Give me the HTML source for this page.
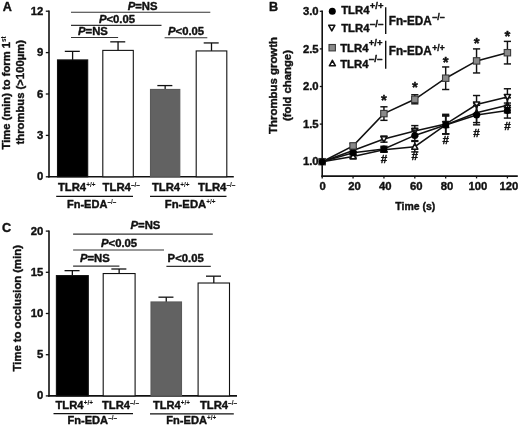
<!DOCTYPE html>
<html><head><meta charset="utf-8"><title>Figure</title>
<style>html,body{margin:0;padding:0;background:#fff}svg{display:block;filter:blur(0.35px)}</style></head>
<body>
<svg width="520" height="426" viewBox="0 0 520 426" font-family='"Liberation Sans", Arial, sans-serif' font-weight="bold" fill="#111">
<style>text{stroke:#111;stroke-width:0.4px;stroke-linejoin:round}</style>
<rect width="520" height="426" fill="#fff"/>
<text x="2.8" y="11.0" font-size="12.6" text-anchor="start" >A</text>
<line x1="49.0" y1="10.6" x2="49.0" y2="177.5" stroke="#111" stroke-width="1.6"/>
<line x1="48.2" y1="176.8" x2="233.8" y2="176.8" stroke="#111" stroke-width="1.6"/>
<line x1="45.8" y1="176.8" x2="49.0" y2="176.8" stroke="#111" stroke-width="1.3"/>
<text x="43.4" y="180.3" font-size="11.3" text-anchor="end" >0</text>
<line x1="45.8" y1="135.4" x2="49.0" y2="135.4" stroke="#111" stroke-width="1.3"/>
<text x="43.4" y="138.9" font-size="11.3" text-anchor="end" >3</text>
<line x1="45.8" y1="94.0" x2="49.0" y2="94.0" stroke="#111" stroke-width="1.3"/>
<text x="43.4" y="97.5" font-size="11.3" text-anchor="end" >6</text>
<line x1="45.8" y1="52.6" x2="49.0" y2="52.6" stroke="#111" stroke-width="1.3"/>
<text x="43.4" y="56.1" font-size="11.3" text-anchor="end" >9</text>
<line x1="45.8" y1="11.2" x2="49.0" y2="11.2" stroke="#111" stroke-width="1.3"/>
<text x="43.4" y="14.7" font-size="11.3" text-anchor="end" >12</text>
<line x1="72.6" y1="51.36" x2="72.6" y2="59.91" stroke="#111" stroke-width="1.3"/>
<line x1="64.8" y1="51.36" x2="79.8" y2="51.36" stroke="#111" stroke-width="1.3"/>
<rect x="57.5" y="59.91" width="30.2" height="116.89" fill="#000" stroke="#111" stroke-width="1.1"/>
<line x1="118.05" y1="41.84" x2="118.05" y2="50.39" stroke="#111" stroke-width="1.3"/>
<line x1="110.25" y1="41.84" x2="125.25" y2="41.84" stroke="#111" stroke-width="1.3"/>
<rect x="102.8" y="50.39" width="30.5" height="126.41" fill="#fff" stroke="#111" stroke-width="1.1"/>
<line x1="165.15" y1="85.58" x2="165.15" y2="89.45" stroke="#111" stroke-width="1.3"/>
<line x1="157.35" y1="85.58" x2="172.35" y2="85.58" stroke="#111" stroke-width="1.3"/>
<rect x="150.5" y="89.45" width="29.3" height="87.35" fill="#626262" stroke="#5a5a5a" stroke-width="1.1"/>
<line x1="211.5" y1="42.94" x2="211.5" y2="50.94" stroke="#111" stroke-width="1.3"/>
<line x1="203.7" y1="42.94" x2="218.7" y2="42.94" stroke="#111" stroke-width="1.3"/>
<rect x="196.2" y="50.94" width="30.6" height="125.86" fill="#fff" stroke="#111" stroke-width="1.1"/>
<line x1="71" y1="12.3" x2="210.3" y2="12.3" stroke="#333" stroke-width="1.1"/>
<line x1="71" y1="25.4" x2="161.5" y2="25.4" stroke="#333" stroke-width="1.1"/>
<line x1="71" y1="37.5" x2="118.1" y2="37.5" stroke="#333" stroke-width="1.1"/>
<line x1="164.6" y1="37.8" x2="207.3" y2="37.8" stroke="#333" stroke-width="1.1"/>
<text x="127.7" y="10.2" font-size="11.3" text-anchor="start" ><tspan font-style="italic">P</tspan>=NS</text>
<text x="98.9" y="22.5" font-size="11.3" text-anchor="start" ><tspan font-style="italic">P</tspan>&lt;0.05</text>
<text x="78" y="35.4" font-size="11.3" text-anchor="start" ><tspan font-style="italic">P</tspan>=NS</text>
<text x="168" y="35.4" font-size="11.3" text-anchor="start" ><tspan font-style="italic">P</tspan>&lt;0.05</text>
<text x="58" y="190.8" font-size="11.3" text-anchor="start" textLength="37.5" lengthAdjust="spacingAndGlyphs">TLR4<tspan font-size="6.5" dy="-4" stroke-width="0.05">+/+</tspan></text>
<text x="102.5" y="190.8" font-size="11.3" text-anchor="start" textLength="37.5" lengthAdjust="spacingAndGlyphs">TLR4<tspan font-size="6.5" dy="-4" stroke-width="0.05">–/–</tspan></text>
<text x="152" y="190.8" font-size="11.3" text-anchor="start" textLength="37.5" lengthAdjust="spacingAndGlyphs">TLR4<tspan font-size="6.5" dy="-4" stroke-width="0.05">+/+</tspan></text>
<text x="198" y="190.8" font-size="11.3" text-anchor="start" textLength="37.5" lengthAdjust="spacingAndGlyphs">TLR4<tspan font-size="6.5" dy="-4" stroke-width="0.05">–/–</tspan></text>
<line x1="56.2" y1="196.3" x2="133" y2="196.3" stroke="#111" stroke-width="1.2"/>
<line x1="150" y1="196.4" x2="226.5" y2="196.4" stroke="#111" stroke-width="1.2"/>
<text x="67" y="208.4" font-size="11.3" text-anchor="start" textLength="49.2" lengthAdjust="spacingAndGlyphs">Fn-EDA<tspan font-size="6.5" dy="-4" stroke-width="0.05">–/–</tspan></text>
<text x="164.8" y="208.4" font-size="11.3" text-anchor="start" textLength="50.8" lengthAdjust="spacingAndGlyphs">Fn-EDA<tspan font-size="6.5" dy="-4" stroke-width="0.05">+/+</tspan></text>
<text transform="translate(10.4,149.5) rotate(-90)" font-size="11.3" textLength="113.2" lengthAdjust="spacingAndGlyphs">Time (min) to form 1<tspan font-size="6.5" dy="-4" stroke-width="0.05">st</tspan></text>
<text transform="translate(24.2,144.5) rotate(-90)" font-size="11.3" textLength="104.4" lengthAdjust="spacingAndGlyphs">thrombus (&gt;100µm)</text>
<text x="2" y="231.8" font-size="12.6" text-anchor="start" >C</text>
<line x1="49.0" y1="230.5" x2="49.0" y2="396.6" stroke="#111" stroke-width="1.6"/>
<line x1="48.2" y1="395.9" x2="237" y2="395.9" stroke="#111" stroke-width="1.6"/>
<line x1="45.8" y1="395.9" x2="49.0" y2="395.9" stroke="#111" stroke-width="1.3"/>
<text x="43.4" y="399.4" font-size="11.3" text-anchor="end" >0</text>
<line x1="45.8" y1="354.7" x2="49.0" y2="354.7" stroke="#111" stroke-width="1.3"/>
<text x="43.4" y="358.2" font-size="11.3" text-anchor="end" >5</text>
<line x1="45.8" y1="313.5" x2="49.0" y2="313.5" stroke="#111" stroke-width="1.3"/>
<text x="43.4" y="317.0" font-size="11.3" text-anchor="end" >10</text>
<line x1="45.8" y1="272.3" x2="49.0" y2="272.3" stroke="#111" stroke-width="1.3"/>
<text x="43.4" y="275.8" font-size="11.3" text-anchor="end" >15</text>
<line x1="45.8" y1="231.1" x2="49.0" y2="231.1" stroke="#111" stroke-width="1.3"/>
<text x="43.4" y="234.6" font-size="11.3" text-anchor="end" >20</text>
<line x1="72.35" y1="270.65" x2="72.35" y2="275.6" stroke="#111" stroke-width="1.3"/>
<line x1="64.55" y1="270.65" x2="79.55" y2="270.65" stroke="#111" stroke-width="1.3"/>
<rect x="56.4" y="275.6" width="31.9" height="120.3" fill="#000" stroke="#111" stroke-width="1.1"/>
<line x1="119.15" y1="269" x2="119.15" y2="273.54" stroke="#111" stroke-width="1.3"/>
<line x1="111.35" y1="269" x2="126.35" y2="269" stroke="#111" stroke-width="1.3"/>
<rect x="103.2" y="273.54" width="31.9" height="122.36" fill="#fff" stroke="#111" stroke-width="1.1"/>
<line x1="166.25" y1="297.18" x2="166.25" y2="301.96" stroke="#111" stroke-width="1.3"/>
<line x1="158.45" y1="297.18" x2="173.45" y2="297.18" stroke="#111" stroke-width="1.3"/>
<rect x="151.0" y="301.96" width="30.5" height="93.94" fill="#626262" stroke="#5a5a5a" stroke-width="1.1"/>
<line x1="213.8" y1="276.17" x2="213.8" y2="283.01" stroke="#111" stroke-width="1.3"/>
<line x1="206.0" y1="276.17" x2="221.0" y2="276.17" stroke="#111" stroke-width="1.3"/>
<rect x="198.1" y="283.01" width="31.4" height="112.89" fill="#fff" stroke="#111" stroke-width="1.1"/>
<line x1="73.1" y1="234.1" x2="212.8" y2="234.1" stroke="#333" stroke-width="1.1"/>
<line x1="73.1" y1="250" x2="164" y2="250" stroke="#333" stroke-width="1.1"/>
<line x1="73.1" y1="266.1" x2="119.4" y2="266.1" stroke="#333" stroke-width="1.1"/>
<line x1="166.4" y1="266.4" x2="210.8" y2="266.4" stroke="#333" stroke-width="1.1"/>
<text x="130.5" y="228.8" font-size="11.3" text-anchor="start" ><tspan font-style="italic">P</tspan>=NS</text>
<text x="101" y="246.5" font-size="11.3" text-anchor="start" ><tspan font-style="italic">P</tspan>&lt;0.05</text>
<text x="79.9" y="262" font-size="11.3" text-anchor="start" ><tspan font-style="italic">P</tspan>=NS</text>
<text x="167.6" y="261.9" font-size="11.3" text-anchor="start" ><tspan>P</tspan>&lt;0.05</text>
<text x="55.5" y="409.3" font-size="11.3" text-anchor="start" textLength="37.5" lengthAdjust="spacingAndGlyphs">TLR4<tspan font-size="6.5" dy="-4" stroke-width="0.05">+/+</tspan></text>
<text x="102" y="409.3" font-size="11.3" text-anchor="start" textLength="37" lengthAdjust="spacingAndGlyphs">TLR4<tspan font-size="6.5" dy="-4" stroke-width="0.05">–/–</tspan></text>
<text x="153" y="409.3" font-size="11.3" text-anchor="start" textLength="37" lengthAdjust="spacingAndGlyphs">TLR4<tspan font-size="6.5" dy="-4" stroke-width="0.05">+/+</tspan></text>
<text x="199.9" y="409.3" font-size="11.3" text-anchor="start" textLength="37.2" lengthAdjust="spacingAndGlyphs">TLR4<tspan font-size="6.5" dy="-4" stroke-width="0.05">–/–</tspan></text>
<line x1="53.5" y1="413.7" x2="133" y2="413.7" stroke="#111" stroke-width="1.2"/>
<line x1="150" y1="413.9" x2="233.8" y2="413.9" stroke="#111" stroke-width="1.2"/>
<text x="67.5" y="424.2" font-size="11.3" text-anchor="start" textLength="49.5" lengthAdjust="spacingAndGlyphs">Fn-EDA<tspan font-size="6.5" dy="-4" stroke-width="0.05">–/–</tspan></text>
<text x="166.3" y="424.2" font-size="11.3" text-anchor="start" textLength="50" lengthAdjust="spacingAndGlyphs">Fn-EDA<tspan font-size="6.5" dy="-4" stroke-width="0.05">+/+</tspan></text>
<text transform="translate(21.2,371.4) rotate(-90)" font-size="11.3" textLength="126.3" lengthAdjust="spacingAndGlyphs">Time to occlusion (min)</text>
<text x="268.9" y="11.1" font-size="12.6" text-anchor="start" >B</text>
<line x1="322.2" y1="10.6" x2="322.2" y2="176.8" stroke="#111" stroke-width="1.6"/>
<line x1="321.4" y1="176.1" x2="517.8" y2="176.1" stroke="#111" stroke-width="1.6"/>
<line x1="319.8" y1="161.7" x2="322.2" y2="161.7" stroke="#111" stroke-width="1.3"/>
<text x="318.6" y="165.4" font-size="11.3" text-anchor="end" >1.0</text>
<line x1="319.8" y1="124.1" x2="322.2" y2="124.1" stroke="#111" stroke-width="1.3"/>
<text x="318.6" y="127.8" font-size="11.3" text-anchor="end" >1.5</text>
<line x1="319.8" y1="86.5" x2="322.2" y2="86.5" stroke="#111" stroke-width="1.3"/>
<text x="318.6" y="90.2" font-size="11.3" text-anchor="end" >2.0</text>
<line x1="319.8" y1="48.9" x2="322.2" y2="48.9" stroke="#111" stroke-width="1.3"/>
<text x="318.6" y="52.6" font-size="11.3" text-anchor="end" >2.5</text>
<line x1="319.8" y1="11.3" x2="322.2" y2="11.3" stroke="#111" stroke-width="1.3"/>
<text x="318.6" y="15" font-size="11.3" text-anchor="end" >3.0</text>
<line x1="322.2" y1="176.1" x2="322.2" y2="178.4" stroke="#111" stroke-width="1.3"/>
<text x="322.7" y="189.8" font-size="11.3" text-anchor="middle" >0</text>
<line x1="353.07" y1="176.1" x2="353.07" y2="178.4" stroke="#111" stroke-width="1.3"/>
<text x="354.47" y="189.8" font-size="11.3" text-anchor="middle" >20</text>
<line x1="383.94" y1="176.1" x2="383.94" y2="178.4" stroke="#111" stroke-width="1.3"/>
<text x="385.34" y="189.8" font-size="11.3" text-anchor="middle" >40</text>
<line x1="414.81" y1="176.1" x2="414.81" y2="178.4" stroke="#111" stroke-width="1.3"/>
<text x="416.21" y="189.8" font-size="11.3" text-anchor="middle" >60</text>
<line x1="445.68" y1="176.1" x2="445.68" y2="178.4" stroke="#111" stroke-width="1.3"/>
<text x="447.08" y="189.8" font-size="11.3" text-anchor="middle" >80</text>
<line x1="476.55" y1="176.1" x2="476.55" y2="178.4" stroke="#111" stroke-width="1.3"/>
<text x="477.95" y="189.8" font-size="11.3" text-anchor="middle" >100</text>
<line x1="507.42" y1="176.1" x2="507.42" y2="178.4" stroke="#111" stroke-width="1.3"/>
<text x="508.82" y="189.8" font-size="11.3" text-anchor="middle" >120</text>
<text x="415.3" y="209.5" font-size="11.3" text-anchor="middle" textLength="40" lengthAdjust="spacingAndGlyphs">Time (s)</text>
<text transform="translate(277,133.9) rotate(-90)" font-size="11.5" textLength="96.9" lengthAdjust="spacingAndGlyphs">Thrombus growth</text>
<text transform="translate(290.6,121) rotate(-90)" font-size="11.3" textLength="70.9" lengthAdjust="spacingAndGlyphs">(fold change)</text>
<polyline points="322.2,161.7 353.1,156.4 383.9,149.7 414.8,146.7 445.7,124.9 476.6,112.8 507.4,105.3" fill="none" stroke="#111" stroke-width="1.55"/>
<line x1="353.07" y1="154.93" x2="353.07" y2="157.94" stroke="#111" stroke-width="1.45"/>
<line x1="349.47" y1="154.93" x2="356.67" y2="154.93" stroke="#111" stroke-width="1.45"/>
<line x1="349.47" y1="157.94" x2="356.67" y2="157.94" stroke="#111" stroke-width="1.45"/>
<line x1="383.94" y1="147.41" x2="383.94" y2="151.92" stroke="#111" stroke-width="1.45"/>
<line x1="380.34" y1="147.41" x2="387.54" y2="147.41" stroke="#111" stroke-width="1.45"/>
<line x1="380.34" y1="151.92" x2="387.54" y2="151.92" stroke="#111" stroke-width="1.45"/>
<line x1="414.81" y1="141.4" x2="414.81" y2="151.92" stroke="#111" stroke-width="1.45"/>
<line x1="411.21" y1="141.4" x2="418.41" y2="141.4" stroke="#111" stroke-width="1.45"/>
<line x1="411.21" y1="151.92" x2="418.41" y2="151.92" stroke="#111" stroke-width="1.45"/>
<line x1="445.68" y1="115.83" x2="445.68" y2="133.88" stroke="#111" stroke-width="1.45"/>
<line x1="442.08" y1="115.83" x2="449.28" y2="115.83" stroke="#111" stroke-width="1.45"/>
<line x1="442.08" y1="133.88" x2="449.28" y2="133.88" stroke="#111" stroke-width="1.45"/>
<line x1="476.55" y1="103.04" x2="476.55" y2="122.6" stroke="#111" stroke-width="1.45"/>
<line x1="472.95" y1="103.04" x2="480.15" y2="103.04" stroke="#111" stroke-width="1.45"/>
<line x1="472.95" y1="122.6" x2="480.15" y2="122.6" stroke="#111" stroke-width="1.45"/>
<line x1="507.42" y1="97.78" x2="507.42" y2="112.82" stroke="#111" stroke-width="1.45"/>
<line x1="503.82" y1="97.78" x2="511.02" y2="97.78" stroke="#111" stroke-width="1.45"/>
<line x1="503.82" y1="112.82" x2="511.02" y2="112.82" stroke="#111" stroke-width="1.45"/>
<path d="M319.2 164.2 L325.2 164.2 L322.2 158.7 Z" fill="#fff" stroke="#111" stroke-width="1.6" stroke-linejoin="round"/>
<path d="M350.1 158.9 L356.1 158.9 L353.1 153.4 Z" fill="#fff" stroke="#111" stroke-width="1.6" stroke-linejoin="round"/>
<path d="M380.9 152.2 L386.9 152.2 L383.9 146.7 Z" fill="#fff" stroke="#111" stroke-width="1.6" stroke-linejoin="round"/>
<path d="M411.8 149.2 L417.8 149.2 L414.8 143.7 Z" fill="#fff" stroke="#111" stroke-width="1.6" stroke-linejoin="round"/>
<path d="M442.7 127.4 L448.7 127.4 L445.7 121.9 Z" fill="#fff" stroke="#111" stroke-width="1.6" stroke-linejoin="round"/>
<path d="M473.6 115.3 L479.6 115.3 L476.6 109.8 Z" fill="#fff" stroke="#111" stroke-width="1.6" stroke-linejoin="round"/>
<path d="M504.4 107.8 L510.4 107.8 L507.4 102.3 Z" fill="#fff" stroke="#111" stroke-width="1.6" stroke-linejoin="round"/>
<polyline points="322.2,161.7 353.1,150.4 383.9,139.1 414.8,130.9 445.7,124.1 476.6,104.5 507.4,97.0" fill="none" stroke="#111" stroke-width="1.55"/>
<line x1="353.07" y1="148.92" x2="353.07" y2="151.92" stroke="#111" stroke-width="1.45"/>
<line x1="349.47" y1="148.92" x2="356.67" y2="148.92" stroke="#111" stroke-width="1.45"/>
<line x1="349.47" y1="151.92" x2="356.67" y2="151.92" stroke="#111" stroke-width="1.45"/>
<line x1="383.94" y1="136.13" x2="383.94" y2="142.15" stroke="#111" stroke-width="1.45"/>
<line x1="380.34" y1="136.13" x2="387.54" y2="136.13" stroke="#111" stroke-width="1.45"/>
<line x1="380.34" y1="142.15" x2="387.54" y2="142.15" stroke="#111" stroke-width="1.45"/>
<line x1="414.81" y1="125.6" x2="414.81" y2="136.13" stroke="#111" stroke-width="1.45"/>
<line x1="411.21" y1="125.6" x2="418.41" y2="125.6" stroke="#111" stroke-width="1.45"/>
<line x1="411.21" y1="136.13" x2="418.41" y2="136.13" stroke="#111" stroke-width="1.45"/>
<line x1="445.68" y1="114.32" x2="445.68" y2="133.88" stroke="#111" stroke-width="1.45"/>
<line x1="442.08" y1="114.32" x2="449.28" y2="114.32" stroke="#111" stroke-width="1.45"/>
<line x1="442.08" y1="133.88" x2="449.28" y2="133.88" stroke="#111" stroke-width="1.45"/>
<line x1="476.55" y1="95.52" x2="476.55" y2="113.57" stroke="#111" stroke-width="1.45"/>
<line x1="472.95" y1="95.52" x2="480.15" y2="95.52" stroke="#111" stroke-width="1.45"/>
<line x1="472.95" y1="113.57" x2="480.15" y2="113.57" stroke="#111" stroke-width="1.45"/>
<line x1="507.42" y1="88.76" x2="507.42" y2="105.3" stroke="#111" stroke-width="1.45"/>
<line x1="503.82" y1="88.76" x2="511.02" y2="88.76" stroke="#111" stroke-width="1.45"/>
<line x1="503.82" y1="105.3" x2="511.02" y2="105.3" stroke="#111" stroke-width="1.45"/>
<path d="M319.2 159.2 L325.2 159.2 L322.2 164.7 Z" fill="#fff" stroke="#111" stroke-width="1.6" stroke-linejoin="round"/>
<path d="M350.1 147.9 L356.1 147.9 L353.1 153.4 Z" fill="#fff" stroke="#111" stroke-width="1.6" stroke-linejoin="round"/>
<path d="M380.9 136.6 L386.9 136.6 L383.9 142.1 Z" fill="#fff" stroke="#111" stroke-width="1.6" stroke-linejoin="round"/>
<path d="M411.8 128.4 L417.8 128.4 L414.8 133.9 Z" fill="#fff" stroke="#111" stroke-width="1.6" stroke-linejoin="round"/>
<path d="M442.7 121.6 L448.7 121.6 L445.7 127.1 Z" fill="#fff" stroke="#111" stroke-width="1.6" stroke-linejoin="round"/>
<path d="M473.6 102.0 L479.6 102.0 L476.6 107.5 Z" fill="#fff" stroke="#111" stroke-width="1.6" stroke-linejoin="round"/>
<path d="M504.4 94.5 L510.4 94.5 L507.4 100.0 Z" fill="#fff" stroke="#111" stroke-width="1.6" stroke-linejoin="round"/>
<polyline points="322.2,161.7 353.1,145.9 383.9,113.6 414.8,99.3 445.7,78.2 476.6,60.9 507.4,52.7" fill="none" stroke="#111" stroke-width="1.55"/>
<line x1="353.07" y1="143.65" x2="353.07" y2="148.16" stroke="#111" stroke-width="1.45"/>
<line x1="349.47" y1="143.65" x2="356.67" y2="143.65" stroke="#111" stroke-width="1.45"/>
<line x1="349.47" y1="148.16" x2="356.67" y2="148.16" stroke="#111" stroke-width="1.45"/>
<line x1="383.94" y1="106.8" x2="383.94" y2="120.34" stroke="#111" stroke-width="1.45"/>
<line x1="380.34" y1="106.8" x2="387.54" y2="106.8" stroke="#111" stroke-width="1.45"/>
<line x1="380.34" y1="120.34" x2="387.54" y2="120.34" stroke="#111" stroke-width="1.45"/>
<line x1="414.81" y1="94.77" x2="414.81" y2="103.8" stroke="#111" stroke-width="1.45"/>
<line x1="411.21" y1="94.77" x2="418.41" y2="94.77" stroke="#111" stroke-width="1.45"/>
<line x1="411.21" y1="103.8" x2="418.41" y2="103.8" stroke="#111" stroke-width="1.45"/>
<line x1="445.68" y1="66.95" x2="445.68" y2="89.51" stroke="#111" stroke-width="1.45"/>
<line x1="442.08" y1="66.95" x2="449.28" y2="66.95" stroke="#111" stroke-width="1.45"/>
<line x1="442.08" y1="89.51" x2="449.28" y2="89.51" stroke="#111" stroke-width="1.45"/>
<line x1="476.55" y1="48.9" x2="476.55" y2="72.96" stroke="#111" stroke-width="1.45"/>
<line x1="472.95" y1="48.9" x2="480.15" y2="48.9" stroke="#111" stroke-width="1.45"/>
<line x1="472.95" y1="72.96" x2="480.15" y2="72.96" stroke="#111" stroke-width="1.45"/>
<line x1="507.42" y1="41.38" x2="507.42" y2="63.94" stroke="#111" stroke-width="1.45"/>
<line x1="503.82" y1="41.38" x2="511.02" y2="41.38" stroke="#111" stroke-width="1.45"/>
<line x1="503.82" y1="63.94" x2="511.02" y2="63.94" stroke="#111" stroke-width="1.45"/>
<rect x="319.0" y="158.5" width="6.4" height="6.4" fill="#8a8a8a" stroke="#3a3a3a" stroke-width="1.1"/>
<rect x="349.9" y="142.7" width="6.4" height="6.4" fill="#8a8a8a" stroke="#3a3a3a" stroke-width="1.1"/>
<rect x="380.7" y="110.4" width="6.4" height="6.4" fill="#8a8a8a" stroke="#3a3a3a" stroke-width="1.1"/>
<rect x="411.6" y="96.1" width="6.4" height="6.4" fill="#8a8a8a" stroke="#3a3a3a" stroke-width="1.1"/>
<rect x="442.5" y="75.0" width="6.4" height="6.4" fill="#8a8a8a" stroke="#3a3a3a" stroke-width="1.1"/>
<rect x="473.4" y="57.7" width="6.4" height="6.4" fill="#8a8a8a" stroke="#3a3a3a" stroke-width="1.1"/>
<rect x="504.2" y="49.5" width="6.4" height="6.4" fill="#8a8a8a" stroke="#3a3a3a" stroke-width="1.1"/>
<polyline points="322.2,161.7 353.1,152.7 383.9,148.9 414.8,135.4 445.7,124.9 476.6,115.1 507.4,110.6" fill="none" stroke="#111" stroke-width="1.55"/>
<line x1="353.07" y1="151.17" x2="353.07" y2="154.18" stroke="#111" stroke-width="1.45"/>
<line x1="349.47" y1="151.17" x2="356.67" y2="151.17" stroke="#111" stroke-width="1.45"/>
<line x1="349.47" y1="154.18" x2="356.67" y2="154.18" stroke="#111" stroke-width="1.45"/>
<line x1="383.94" y1="146.28" x2="383.94" y2="151.55" stroke="#111" stroke-width="1.45"/>
<line x1="380.34" y1="146.28" x2="387.54" y2="146.28" stroke="#111" stroke-width="1.45"/>
<line x1="380.34" y1="151.55" x2="387.54" y2="151.55" stroke="#111" stroke-width="1.45"/>
<line x1="414.81" y1="130.12" x2="414.81" y2="140.64" stroke="#111" stroke-width="1.45"/>
<line x1="411.21" y1="130.12" x2="418.41" y2="130.12" stroke="#111" stroke-width="1.45"/>
<line x1="411.21" y1="140.64" x2="418.41" y2="140.64" stroke="#111" stroke-width="1.45"/>
<line x1="445.68" y1="115.83" x2="445.68" y2="133.88" stroke="#111" stroke-width="1.45"/>
<line x1="442.08" y1="115.83" x2="449.28" y2="115.83" stroke="#111" stroke-width="1.45"/>
<line x1="442.08" y1="133.88" x2="449.28" y2="133.88" stroke="#111" stroke-width="1.45"/>
<line x1="476.55" y1="105.3" x2="476.55" y2="124.85" stroke="#111" stroke-width="1.45"/>
<line x1="472.95" y1="105.3" x2="480.15" y2="105.3" stroke="#111" stroke-width="1.45"/>
<line x1="472.95" y1="124.85" x2="480.15" y2="124.85" stroke="#111" stroke-width="1.45"/>
<line x1="507.42" y1="103.04" x2="507.42" y2="118.08" stroke="#111" stroke-width="1.45"/>
<line x1="503.82" y1="103.04" x2="511.02" y2="103.04" stroke="#111" stroke-width="1.45"/>
<line x1="503.82" y1="118.08" x2="511.02" y2="118.08" stroke="#111" stroke-width="1.45"/>
<circle cx="322.2" cy="161.7" r="3.5" fill="#000"/>
<circle cx="353.1" cy="152.7" r="3.5" fill="#000"/>
<circle cx="383.9" cy="148.9" r="3.5" fill="#000"/>
<circle cx="414.8" cy="135.4" r="3.5" fill="#000"/>
<circle cx="445.7" cy="124.9" r="3.5" fill="#000"/>
<circle cx="476.6" cy="115.1" r="3.5" fill="#000"/>
<circle cx="507.4" cy="110.6" r="3.5" fill="#000"/>
<text x="384.04" y="105.1" font-size="15" text-anchor="middle" >*</text>
<text x="414.91" y="92.1" font-size="15" text-anchor="middle" >*</text>
<text x="445.78" y="67.1" font-size="15" text-anchor="middle" >*</text>
<text x="476.65" y="48.3" font-size="15" text-anchor="middle" >*</text>
<text x="507.52" y="40.8" font-size="15" text-anchor="middle" >*</text>
<text x="383.94" y="162.7" font-size="11.6" text-anchor="middle" >#</text>
<text x="414.81" y="159.5" font-size="11.6" text-anchor="middle" >#</text>
<text x="445.68" y="143.6" font-size="11.6" text-anchor="middle" >#</text>
<text x="476.55" y="136.6" font-size="11.6" text-anchor="middle" >#</text>
<text x="507.42" y="130.4" font-size="11.6" text-anchor="middle" >#</text>
<circle cx="332.3" cy="11.3" r="3.5" fill="#000"/>
<text x="341.2" y="14.4" font-size="11.3" text-anchor="start" textLength="28.3" lengthAdjust="spacingAndGlyphs">TLR4</text>
<text x="369.8" y="9.1" font-size="9.2" text-anchor="start" textLength="13.6" lengthAdjust="spacingAndGlyphs">+/+</text>
<path d="M328.8 25.3 L334.8 25.3 L331.8 30.8 Z" fill="#fff" stroke="#111" stroke-width="1.6" stroke-linejoin="round"/>
<text x="341.2" y="32.2" font-size="11.3" text-anchor="start" textLength="28.3" lengthAdjust="spacingAndGlyphs">TLR4</text>
<text x="369.8" y="26.9" font-size="9.2" text-anchor="start" textLength="13.6" lengthAdjust="spacingAndGlyphs">–/–</text>
<rect x="329.0" y="44.5" width="6.4" height="6.4" fill="#8a8a8a" stroke="#3a3a3a" stroke-width="1.1"/>
<text x="340.2" y="51.7" font-size="11.3" text-anchor="start" textLength="28.3" lengthAdjust="spacingAndGlyphs">TLR4</text>
<text x="368.8" y="46.4" font-size="9.2" text-anchor="start" textLength="13.6" lengthAdjust="spacingAndGlyphs">+/+</text>
<path d="M329.4 65.8 L335.4 65.8 L332.4 60.3 Z" fill="#fff" stroke="#111" stroke-width="1.6" stroke-linejoin="round"/>
<text x="340.2" y="67.5" font-size="11.3" text-anchor="start" textLength="28.3" lengthAdjust="spacingAndGlyphs">TLR4</text>
<text x="368.8" y="62.2" font-size="9.2" text-anchor="start" textLength="13.6" lengthAdjust="spacingAndGlyphs">–/–</text>
<line x1="385.7" y1="7.3" x2="385.7" y2="34" stroke="#111" stroke-width="1.4"/>
<line x1="385.7" y1="40.8" x2="385.7" y2="68.7" stroke="#111" stroke-width="1.4"/>
<text x="388.7" y="25.1" font-size="13" text-anchor="start" textLength="43.2" lengthAdjust="spacingAndGlyphs">Fn-EDA</text>
<text x="432.3" y="19.9" font-size="9.2" text-anchor="start" textLength="12.4" lengthAdjust="spacingAndGlyphs">–/–</text>
<text x="388.7" y="55.1" font-size="13" text-anchor="start" textLength="43.2" lengthAdjust="spacingAndGlyphs">Fn-EDA</text>
<text x="432.3" y="51.2" font-size="9.2" text-anchor="start" textLength="12.4" lengthAdjust="spacingAndGlyphs">+/+</text>
</svg>
</body></html>
